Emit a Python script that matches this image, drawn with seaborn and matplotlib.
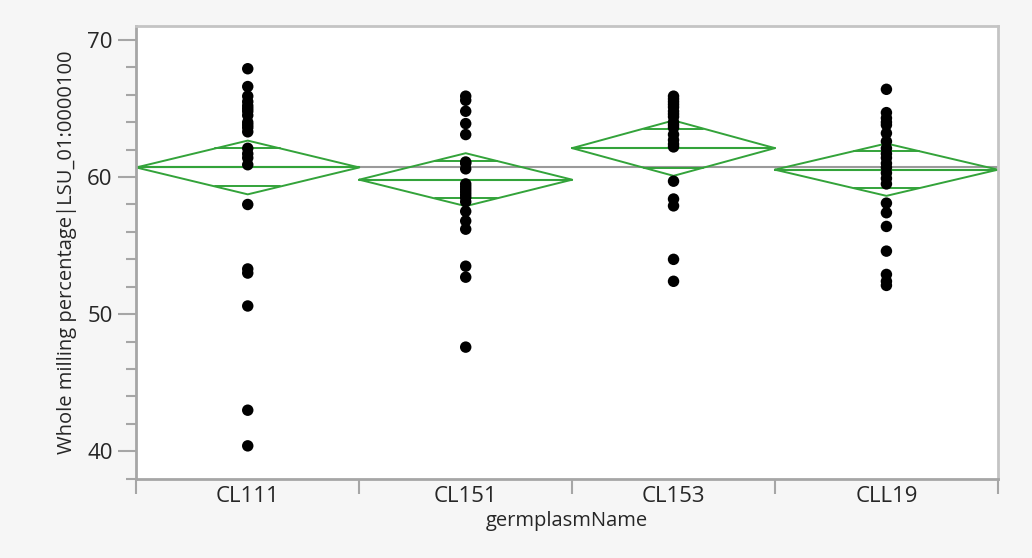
import numpy as np
import pandas as pd
import seaborn as sns
import matplotlib.pyplot as plt
from matplotlib.ticker import MultipleLocator, FixedLocator

# data
groups = ['CL111', 'CL151', 'CL153', 'CLL19']

cl111 = [67.9, 66.6, 65.9, 65.5, 65.2, 65.0, 64.8, 64.5, 64.0, 63.8, 63.6,
         63.3, 62.1, 61.7, 61.4, 60.9, 58.0, 53.3, 53.0, 50.6, 43.0, 40.4]
cl151 = [65.9, 65.6, 64.8, 63.9, 63.1, 61.1, 61.0, 60.6, 59.5, 59.3, 59.1,
         58.9, 58.7, 58.5, 58.2, 57.5, 56.8, 56.2, 53.5, 52.7, 47.6]
cl153 = [65.9, 65.7, 65.5, 65.3, 65.1, 64.8, 64.6, 64.4, 64.0, 63.8, 63.6,
         63.1, 62.7, 62.4, 62.2, 59.7, 58.4, 57.9, 54.0, 52.4]
cll19 = [66.4, 64.7, 64.3, 64.0, 63.8, 63.2, 62.6, 62.1, 61.7, 61.4, 61.0,
         60.7, 60.3, 59.9, 59.5, 58.1, 57.4, 56.4, 54.6, 52.9, 52.4, 52.1]

# means diamonds (group mean, 95% CI half width) and grand mean
means = [60.70, 59.81, 62.11, 60.54]
ci_half = [1.96, 1.93, 2.02, 1.91]
grand_mean = 60.72

sns.set_theme(style="white")
plt.rcParams['font.family'] = ['Open Sans', 'DejaVu Sans']

values = [cl111, cl151, cl153, cll19]
counts = [len(v) for v in values]
edges = np.concatenate([[0], np.cumsum(counts)])
centers = (edges[:-1] + edges[1:]) / 2

df = pd.DataFrame({'germplasmName': np.repeat(groups, counts),
                   'value': np.concatenate(values)})
df['x'] = df['germplasmName'].map(dict(zip(groups, centers)))

green = '#33a33a'
axis_gray = '#a6a6a6'
text_col = '#262626'

fig, ax = plt.subplots(figsize=(10.32, 5.58), dpi=100)
fig.patch.set_facecolor('#f6f6f6')
ax.set_facecolor('white')
fig.subplots_adjust(left=0.132, right=0.967, top=0.953, bottom=0.142)

ax.axhline(grand_mean, color='#9a9a9a', lw=1.5, zorder=1)

# JMP style means diamonds with overlap marks
for i in range(len(groups)):
    l, r, c = edges[i], edges[i + 1], centers[i]
    m, h = means[i], ci_half[i]
    ax.plot([l, c, r, c, l], [m, m + h, m, m - h, m], color=green, lw=1.4, zorder=2)
    ax.plot([l, r], [m, m], color=green, lw=1.5, zorder=2)
    d = h / np.sqrt(2)
    w = (r - l) / 2 * (1 - 1 / np.sqrt(2))
    ax.plot([c - w, c + w], [m + d, m + d], color=green, lw=1.4, zorder=2)
    ax.plot([c - w, c + w], [m - d, m - d], color=green, lw=1.4, zorder=2)

sns.scatterplot(data=df, x='x', y='value', color='black', s=68,
                edgecolor='none', ax=ax, zorder=3)

ax.set_xlim(edges[0], edges[-1])
ax.set_ylim(38, 71)

# x axis: separators as major ticks, names centred as minor ticks
ax.xaxis.set_major_locator(FixedLocator(edges))
ax.xaxis.set_minor_locator(FixedLocator(centers))
ax.set_xticklabels([])
ax.set_xticklabels(groups, minor=True)
ax.tick_params(axis='x', which='major', direction='out', length=11, width=1.5,
               color=axis_gray, bottom=True)
ax.tick_params(axis='x', which='minor', length=0, pad=5, labelsize=16,
               labelcolor=text_col, bottom=True)

ax.yaxis.set_major_locator(MultipleLocator(10))
ax.yaxis.set_minor_locator(MultipleLocator(2))
ax.tick_params(axis='y', which='major', direction='out', length=13, width=1.5,
               color=axis_gray, labelsize=16, labelcolor=text_col, left=True, pad=4)
ax.tick_params(axis='y', which='minor', direction='out', length=7, width=1.5,
               color=axis_gray, left=True)

ax.set_xlabel('germplasmName', fontsize=14.5, color=text_col, labelpad=3)
ax.set_ylabel('Whole milling percentage|LSU_01:0000100', fontsize=14.5,
              color=text_col, labelpad=7)

for side in ['left', 'bottom']:
    ax.spines[side].set_color(axis_gray)
    ax.spines[side].set_linewidth(2)
for side in ['top', 'right']:
    ax.spines[side].set_color('#c4c4c4')
    ax.spines[side].set_linewidth(2)

fig.savefig('out.png', dpi=100, facecolor=fig.get_facecolor())
